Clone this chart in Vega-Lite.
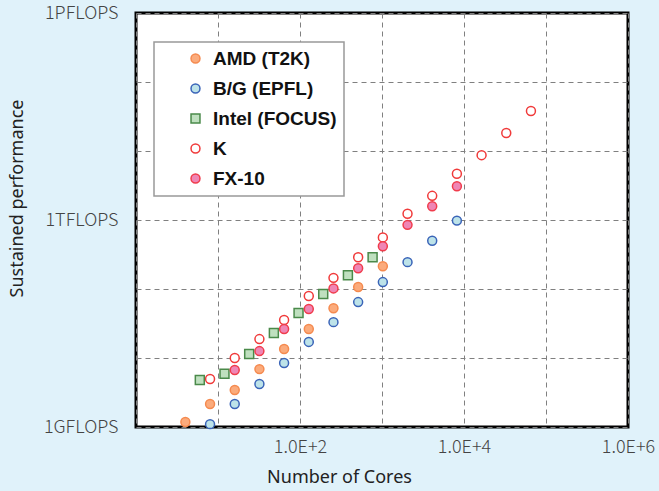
{
  "$schema": "https://vega.github.io/schema/vega-lite/v6.json",
  "autosize": {"type": "none"},
  "width": 492,
  "height": 414,
  "padding": {"left": 136, "top": 13, "right": 31, "bottom": 64},
  "background": "#e0f2fa",
  "config": {
    "view": {"fill": "white", "stroke": "black", "strokeWidth": 3},
    "legend": {
      "orient": "none", "legendX": 18, "legendY": 29,
      "fillColor": "white", "strokeColor": "#999999", "strokeWidth": 1.5,
      "padding": 7, "symbolOffset": 25, "rowPadding": 10,
      "labelFont": "Liberation Sans", "labelFontWeight": "bold", "labelFontSize": 19, "labelColor": "#111",
      "labelOffset": 8, "labelLimit": 400, "labelExpr": "datum.label + '\u00a0\u00a0\u00a0'",
      "symbolSize": 80, "symbolStrokeWidth": 1.5
    }
  },
  "data": {
    "values": [
      {"series": "AMD (T2K)", "cores": 4, "flops": 1.18e9},
      {"series": "AMD (T2K)", "cores": 8, "flops": 2.15e9},
      {"series": "AMD (T2K)", "cores": 16, "flops": 3.44e9},
      {"series": "AMD (T2K)", "cores": 32, "flops": 6.9e9},
      {"series": "AMD (T2K)", "cores": 64, "flops": 1.35e10},
      {"series": "AMD (T2K)", "cores": 128, "flops": 2.63e10},
      {"series": "AMD (T2K)", "cores": 256, "flops": 5.25e10},
      {"series": "AMD (T2K)", "cores": 512, "flops": 1.07e11},
      {"series": "AMD (T2K)", "cores": 1024, "flops": 2.14e11},
      {"series": "B/G (EPFL)", "cores": 8, "flops": 1.1e9},
      {"series": "B/G (EPFL)", "cores": 16, "flops": 2.15e9},
      {"series": "B/G (EPFL)", "cores": 32, "flops": 4.2e9},
      {"series": "B/G (EPFL)", "cores": 64, "flops": 8.47e9},
      {"series": "B/G (EPFL)", "cores": 128, "flops": 1.71e10},
      {"series": "B/G (EPFL)", "cores": 256, "flops": 3.31e10},
      {"series": "B/G (EPFL)", "cores": 512, "flops": 6.46e10},
      {"series": "B/G (EPFL)", "cores": 1024, "flops": 1.26e11},
      {"series": "B/G (EPFL)", "cores": 2048, "flops": 2.45e11},
      {"series": "B/G (EPFL)", "cores": 4096, "flops": 5.0e11},
      {"series": "B/G (EPFL)", "cores": 8192, "flops": 9.8e11},
      {"series": "Intel (FOCUS)", "cores": 6, "flops": 4.8e9},
      {"series": "Intel (FOCUS)", "cores": 12, "flops": 5.9e9},
      {"series": "Intel (FOCUS)", "cores": 24, "flops": 1.14e10},
      {"series": "Intel (FOCUS)", "cores": 48, "flops": 2.3e10},
      {"series": "Intel (FOCUS)", "cores": 96, "flops": 4.49e10},
      {"series": "Intel (FOCUS)", "cores": 192, "flops": 8.47e10},
      {"series": "Intel (FOCUS)", "cores": 384, "flops": 1.58e11},
      {"series": "Intel (FOCUS)", "cores": 768, "flops": 2.88e11},
      {"series": "K", "cores": 8, "flops": 4.97e9},
      {"series": "K", "cores": 16, "flops": 1.0e10},
      {"series": "K", "cores": 32, "flops": 1.88e10},
      {"series": "K", "cores": 64, "flops": 3.55e10},
      {"series": "K", "cores": 128, "flops": 7.9e10},
      {"series": "K", "cores": 256, "flops": 1.45e11},
      {"series": "K", "cores": 512, "flops": 2.88e11},
      {"series": "K", "cores": 1024, "flops": 5.6e11},
      {"series": "K", "cores": 2048, "flops": 1.23e12},
      {"series": "K", "cores": 4096, "flops": 2.24e12},
      {"series": "K", "cores": 8192, "flops": 4.68e12},
      {"series": "K", "cores": 16384, "flops": 8.7e12},
      {"series": "K", "cores": 32768, "flops": 1.82e13},
      {"series": "K", "cores": 65536, "flops": 3.8e13},
      {"series": "FX-10", "cores": 16, "flops": 6.7e9},
      {"series": "FX-10", "cores": 32, "flops": 1.26e10},
      {"series": "FX-10", "cores": 64, "flops": 2.63e10},
      {"series": "FX-10", "cores": 128, "flops": 5.13e10},
      {"series": "FX-10", "cores": 256, "flops": 1.02e11},
      {"series": "FX-10", "cores": 512, "flops": 2.0e11},
      {"series": "FX-10", "cores": 1024, "flops": 4.17e11},
      {"series": "FX-10", "cores": 2048, "flops": 8.5e11},
      {"series": "FX-10", "cores": 4096, "flops": 1.58e12},
      {"series": "FX-10", "cores": 8192, "flops": 3.09e12}
    ]
  },
  "mark": {"type": "point", "filled": true, "size": 80, "strokeWidth": 1.5, "opacity": 1},
  "encoding": {
    "x": {
      "field": "cores", "type": "quantitative",
      "scale": {"type": "log", "domain": [1, 1000000], "nice": false},
      "axis": {
        "values": [1, 10, 100, 1000, 10000, 100000, 1000000],
        "labelExpr": "datum.value > 90 && datum.value < 110 ? '1.0E+2' : datum.value > 9000 && datum.value < 11000 ? '1.0E+4' : datum.value > 900000 ? '1.0E+6' : ''",
        "title": "Number of Cores",
        "titleFont": "Noto Sans", "titleFontSize": 18, "titleFontWeight": "normal", "titleColor": "#222",
        "titleX": 203, "titleY": 50, "titleBaseline": "middle", "titleAlign": "center",
        "labelFont": "Noto Sans CJK JP", "labelFontWeight": 300, "labelFontSize": 18, "labelColor": "#444",
        "labelPadding": 11, "labelFlush": false, "labelOverlap": false,
        "ticks": false, "domain": false,
        "grid": true, "gridColor": "#808080", "gridDash": [5, 4], "gridWidth": 1, "gridOpacity": 1
      }
    },
    "y": {
      "field": "flops", "type": "quantitative",
      "scale": {"type": "log", "domain": [1e9, 1e15], "nice": false},
      "axis": {
        "values": [1e9, 1e10, 1e11, 1e12, 1e13, 1e14, 1e15],
        "labelExpr": "datum.value < 1.1e9 ? '1GFLOPS' : (datum.value > 0.9e12 && datum.value < 1.1e12) ? '1TFLOPS' : datum.value > 0.9e15 ? '1PFLOPS' : ''",
        "title": "Sustained performance",
        "titleFont": "Noto Sans", "titleFontSize": 18, "titleFontWeight": "normal", "titleColor": "#222",
        "titleX": -119, "titleY": 185, "titleBaseline": "middle", "titleAlign": "center", "titleAngle": -90,
        "labelFont": "Noto Sans CJK JP", "labelFontWeight": 300, "labelFontSize": 18, "labelColor": "#444",
        "labelPadding": 18, "labelOverlap": false, "labelBaseline": "middle",
        "ticks": false, "domain": false,
        "grid": true, "gridColor": "#808080", "gridDash": [5, 4], "gridWidth": 1, "gridOpacity": 1
      }
    },
    "shape": {
      "field": "series", "type": "nominal",
      "scale": {"domain": ["AMD (T2K)", "B/G (EPFL)", "Intel (FOCUS)", "K", "FX-10"], "range": ["circle", "circle", "square", "circle", "circle"]},
      "legend": {"title": null}
    },
    "fill": {
      "field": "series", "type": "nominal",
      "scale": {"domain": ["AMD (T2K)", "B/G (EPFL)", "Intel (FOCUS)", "K", "FX-10"], "range": ["#fbab7c", "#bde3e9", "#bfe0bf", "#ffffff", "#ef86b5"]},
      "legend": {"title": null}
    },
    "stroke": {
      "field": "series", "type": "nominal",
      "scale": {"domain": ["AMD (T2K)", "B/G (EPFL)", "Intel (FOCUS)", "K", "FX-10"], "range": ["#f58a4f", "#3a64b8", "#4a8a4a", "#f03a3a", "#f03c4c"]},
      "legend": {"title": null}
    }
  }
}
